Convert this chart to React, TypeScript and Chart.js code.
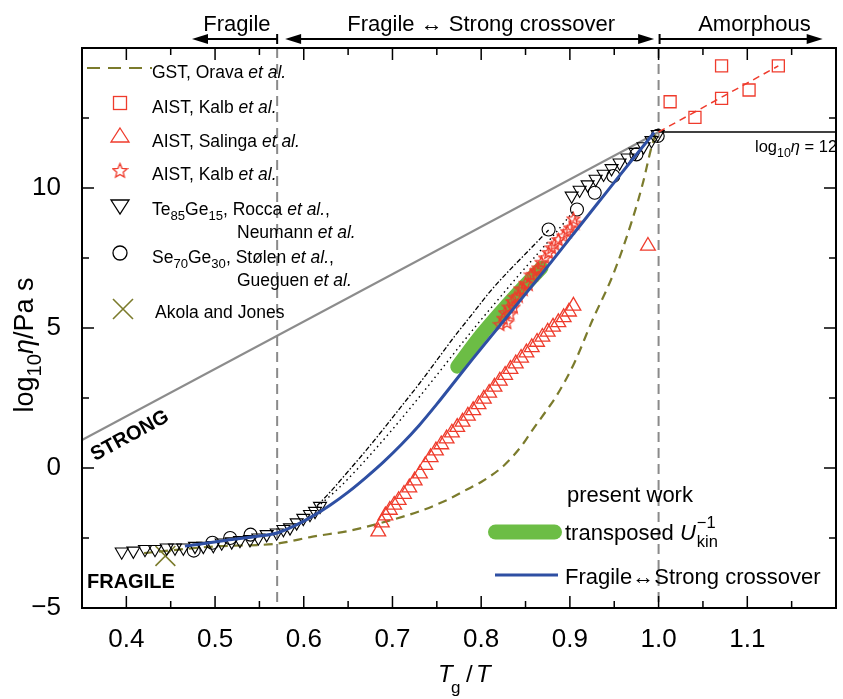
import React, { useEffect, useRef } from 'react';
import { Chart, registerables } from 'chart.js';

Chart.register(...registerables);

const FONT = '"Liberation Sans", Arial, Helvetica, sans-serif';

// ---------- data (x = Tg/T, y = log10 eta) ----------
const blueCrossover = [[0.466,-2.79],[0.513,-2.58],[0.55,-2.43],[0.57,-2.32],[0.59,-2.06],[0.61,-1.72],[0.63,-1.32],[0.65,-0.86],[0.67,-0.34],[0.69,0.22],[0.71,0.84],[0.73,1.52],[0.75,2.28],[0.77,3.08],[0.79,3.88],[0.81,4.66],[0.83,5.44],[0.85,6.22],[0.87,7.0],[0.89,7.8],[0.91,8.6],[0.93,9.4],[0.95,10.2],[0.97,11.0],[0.995,11.98]];
const greenUkin = [[0.773,3.62],[0.8,4.75],[0.83,5.85],[0.868,7.15]];
const gstOrava = [[0.42,-3.04],[0.5,-2.8],[0.57,-2.7],[0.61,-2.45],[0.65,-2.25],[0.686,-1.97],[0.73,-1.55],[0.761,-1.15],[0.782,-0.8],[0.8,-0.5],[0.826,0.1],[0.847,0.85],[0.857,1.32],[0.874,2.07],[0.885,2.58],[0.905,3.75],[0.925,5.25],[0.949,6.93],[0.971,8.93],[0.982,10.14],[0.993,11.57],[0.998,12.0]];
const strongLine = [[0.35,1.0],[1.0,12.0]];
const plateau12 = [[1.0,12.0],[1.2,12.0]];
const aistKalbSquares = [[1.013,13.08],[1.041,12.52],[1.071,14.36],[1.071,13.2],[1.102,13.5],[1.135,14.36]];
const aistKalbFit = [[1.0,12.0],[1.135,14.36]];
const aistSalinga = [[0.684,-2.27],[0.688,-1.95],[0.692,-1.7],[0.697,-1.5],[0.702,-1.32],[0.707,-1.15],[0.713,-0.93],[0.719,-0.7],[0.725,-0.45],[0.731,-0.2],[0.737,0.1],[0.743,0.38],[0.749,0.62],[0.755,0.84],[0.761,1.05],[0.767,1.26],[0.773,1.46],[0.779,1.65],[0.785,1.86],[0.791,2.06],[0.797,2.27],[0.803,2.47],[0.809,2.68],[0.815,2.9],[0.821,3.11],[0.827,3.32],[0.833,3.53],[0.839,3.73],[0.845,3.93],[0.851,4.12],[0.857,4.31],[0.863,4.5],[0.869,4.68],[0.875,4.86],[0.881,5.04],[0.887,5.2],[0.893,5.38],[0.899,5.58],[0.904,5.79],[0.988,7.93]];
const aistKalbStars = [[0.8212,5.13],[0.825,5.35],[0.8269,5.55],[0.829,5.2],[0.831,5.75],[0.8325,5.5],[0.835,5.95],[0.8363,5.75],[0.838,6.1],[0.842,6.14],[0.844,6.4],[0.8475,6.38],[0.85,6.6],[0.8532,6.56],[0.856,6.9],[0.8588,6.92],[0.862,7.05],[0.8644,7.15],[0.868,7.35],[0.872,7.51],[0.876,7.7],[0.8795,7.87],[0.883,8.0],[0.887,8.16],[0.8926,8.29],[0.897,8.45],[0.9002,8.58],[0.904,8.9],[0.9058,8.75]];
const teGe = [[0.3948,-2.99],[0.4079,-2.96],[0.421,-2.9],[0.4323,-2.9],[0.4455,-2.85],[0.4548,-2.85],[0.4642,-2.85],[0.4774,-2.79],[0.4868,-2.79],[0.498,-2.76],[0.5075,-2.67],[0.5188,-2.63],[0.5281,-2.58],[0.5394,-2.55],[0.5488,-2.49],[0.5582,-2.37],[0.5695,-2.31],[0.577,-2.19],[0.5845,-2.13],[0.592,-1.95],[0.5995,-1.79],[0.607,-1.65],[0.6127,-1.54],[0.6183,-1.36],[0.902,9.72],[0.911,9.93],[0.92,10.12],[0.929,10.32],[0.938,10.5],[0.947,10.7],[0.956,10.9],[0.965,11.08],[0.974,11.28],[0.983,11.48],[0.992,11.7],[0.999,11.92]];
const seGe = [[0.476,-2.95],[0.497,-2.67],[0.517,-2.5],[0.54,-2.38],[0.876,8.52],[0.908,9.23],[0.928,9.83],[0.949,10.43],[0.975,11.2],[0.999,11.86]];
const fitDashDot = [[0.615,-1.35],[0.63,-0.85],[0.65,-0.12],[0.67,0.62],[0.69,1.4],[0.71,2.2],[0.73,3.0],[0.75,3.85],[0.77,4.7],[0.79,5.5],[0.81,6.3],[0.83,7.0],[0.85,7.65],[0.876,8.5]];
const fitDotted = [[0.615,-1.4],[0.64,-0.7],[0.66,-0.05],[0.68,0.65],[0.7,1.38],[0.72,2.14],[0.74,2.92],[0.76,3.72],[0.78,4.52],[0.8,5.3],[0.82,6.05],[0.84,6.8],[0.86,7.52],[0.88,8.25],[0.905,9.2]];
const akolaJones = [[0.444,-3.14]];
const regionBounds = [0.57, 1.0];
const xMin = 0.35, xMax = 1.2, yMin = -5, yMax = 15;

const RED = '#ef3b2c';
const OLIVE = '#7b7b2c';
const BLUE = '#2e4fa3';
const GREEN = '#6cbd45';
const GRAY = '#8c8c8c';

const pts = (a: number[][]) => a.map(([x, y]) => ({ x, y }));

function makeStar(size: number, color: string) {
  const c = document.createElement('canvas');
  c.width = size; c.height = size;
  const g = c.getContext('2d')!;
  const cx = size / 2, cy = size / 2 + 0.6, R = size / 2 - 1, r = R * 0.45;
  g.beginPath();
  for (let k = 0; k < 10; k++) {
    const ang = -Math.PI / 2 + (k * Math.PI) / 5;
    const rr = k % 2 === 0 ? R : r;
    g.lineTo(cx + rr * Math.cos(ang), cy + rr * Math.sin(ang));
  }
  g.closePath();
  g.strokeStyle = color; g.lineWidth = 1.3; g.stroke();
  return c;
}

type Seg = { t: string; i?: boolean; b?: boolean; sub?: boolean; sup?: boolean };
function drawRich(ctx: CanvasRenderingContext2D, segs: Seg[], x: number, y: number, size: number) {
  let cx = x;
  for (const s of segs) {
    const fs = s.sub || s.sup ? size * 0.75 : size;
    ctx.font = `${s.i ? 'italic ' : ''}${s.b ? 'bold ' : ''}${fs}px ${FONT}`;
    const dy = s.sub ? size * 0.3 : s.sup ? -size * 0.45 : 0;
    ctx.fillText(s.t, cx, y + dy);
    cx += ctx.measureText(s.t).width;
  }
  return cx;
}

function arrowHead(ctx: CanvasRenderingContext2D, x: number, y: number, dir: number) {
  ctx.beginPath();
  ctx.moveTo(x, y);
  ctx.lineTo(x - dir * 16, y - 5);
  ctx.lineTo(x - dir * 16, y + 5);
  ctx.closePath();
  ctx.fill();
}

const decor = {
  id: 'decor',
  beforeDatasetsDraw(chart: any) {
    const { ctx, chartArea: a, scales } = chart;
    ctx.save();
    ctx.strokeStyle = '#8a8a8a'; ctx.lineWidth = 2; ctx.setLineDash([10, 6]);
    for (const v of regionBounds) {
      const px = scales.x.getPixelForValue(v);
      ctx.beginPath(); ctx.moveTo(px, a.top); ctx.lineTo(px, a.bottom); ctx.stroke();
    }
    ctx.restore();
  },
  afterDraw(chart: any) {
    const { ctx, chartArea: a, scales } = chart;
    const xs = scales.x, ys = scales.y;
    ctx.save();
    ctx.setLineDash([]);
    ctx.strokeStyle = '#000'; ctx.fillStyle = '#000';
    // ticks (inward, all sides)
    ctx.lineWidth = 1.5;
    for (let k = 7; k <= 24; k++) {
      const px = xs.getPixelForValue(k * 0.05);
      const L = k % 2 === 0 ? 12 : 7;
      ctx.beginPath();
      ctx.moveTo(px, a.bottom); ctx.lineTo(px, a.bottom - L);
      ctx.moveTo(px, a.top); ctx.lineTo(px, a.top + L);
      ctx.stroke();
    }
    for (let k = -2; k <= 6; k++) {
      const py = ys.getPixelForValue(k * 2.5);
      const L = k % 2 === 0 ? 12 : 7;
      ctx.beginPath();
      ctx.moveTo(a.left, py); ctx.lineTo(a.left + L, py);
      ctx.moveTo(a.right, py); ctx.lineTo(a.right - L, py);
      ctx.stroke();
    }
    ctx.lineWidth = 2;
    ctx.strokeRect(a.left, a.top, a.right - a.left, a.bottom - a.top);

    // top region arrows
    const ay = 39;
    ctx.lineWidth = 2;
    const p = (v: number) => xs.getPixelForValue(v);
    ctx.beginPath();
    ctx.moveTo(p(0.474) + 10, ay); ctx.lineTo(p(0.57), ay);
    ctx.moveTo(p(0.57), ay - 5); ctx.lineTo(p(0.57), ay + 5);
    ctx.moveTo(p(0.579) + 10, ay); ctx.lineTo(p(0.995) - 10, ay);
    ctx.moveTo(p(1.0) + 1, ay - 5); ctx.lineTo(p(1.0) + 1, ay + 5);
    ctx.moveTo(p(1.0) + 1, ay); ctx.lineTo(p(1.185) - 10, ay);
    ctx.stroke();
    arrowHead(ctx, p(0.474), ay, -1);
    arrowHead(ctx, p(0.579), ay, -1);
    arrowHead(ctx, p(0.995), ay, 1);
    arrowHead(ctx, p(1.185), ay, 1);
    ctx.font = `22px ${FONT}`;
    ctx.textAlign = 'center'; ctx.textBaseline = 'alphabetic';
    ctx.fillText('Fragile', p(0.5247), 31);
    ctx.fillText('Fragile \u2194 Strong crossover', p(0.80), 31);
    ctx.fillText('Amorphous', p(1.108), 31);

    // top-left legend
    ctx.textAlign = 'left';
    const LS = 17.5;
    ctx.strokeStyle = OLIVE; ctx.lineWidth = 2.2; ctx.setLineDash([13, 8]);
    ctx.beginPath(); ctx.moveTo(87, 68); ctx.lineTo(152, 68); ctx.stroke();
    ctx.setLineDash([]);
    ctx.fillStyle = '#000';
    drawRich(ctx, [{ t: 'GST, Orava ' }, { t: 'et al.', i: true }], 152, 78, LS);
    drawRich(ctx, [{ t: 'AIST, Kalb ' }, { t: 'et al.', i: true }], 152, 113, LS);
    drawRich(ctx, [{ t: 'AIST, Salinga ' }, { t: 'et al.', i: true }], 152, 147, LS);
    drawRich(ctx, [{ t: 'AIST, Kalb ' }, { t: 'et al.', i: true }], 152, 180, LS);
    drawRich(ctx, [{ t: 'Te' }, { t: '85', sub: true }, { t: 'Ge' }, { t: '15', sub: true }, { t: ', Rocca ' }, { t: 'et al.', i: true }, { t: ',' }], 152, 215, LS);
    drawRich(ctx, [{ t: 'Neumann ' }, { t: 'et al.', i: true }], 237, 238, LS);
    drawRich(ctx, [{ t: 'Se' }, { t: '70', sub: true }, { t: 'Ge' }, { t: '30', sub: true }, { t: ', St\u00f8len ' }, { t: 'et al.', i: true }, { t: ',' }], 152, 263, LS);
    drawRich(ctx, [{ t: 'Gueguen ' }, { t: 'et al.', i: true }], 237, 286, LS);
    drawRich(ctx, [{ t: 'Akola and Jones' }], 155, 318, LS);
    // legend symbols
    ctx.lineWidth = 1.3;
    ctx.strokeStyle = RED;
    ctx.strokeRect(113.5, 96.5, 13, 13);
    ctx.beginPath(); ctx.moveTo(120, 128); ctx.lineTo(129, 142); ctx.lineTo(111, 142); ctx.closePath(); ctx.stroke();
    ctx.drawImage(makeStar(17, RED), 111.5, 162);
    ctx.strokeStyle = '#000';
    ctx.beginPath(); ctx.moveTo(111, 200); ctx.lineTo(129, 200); ctx.lineTo(120, 214); ctx.closePath(); ctx.stroke();
    ctx.beginPath(); ctx.arc(120, 253, 7, 0, Math.PI * 2); ctx.stroke();
    ctx.strokeStyle = OLIVE; ctx.lineWidth = 1.6;
    ctx.beginPath(); ctx.moveTo(113, 299); ctx.lineTo(133, 319); ctx.moveTo(133, 299); ctx.lineTo(113, 319); ctx.stroke();

    // bottom-right legend
    ctx.fillStyle = '#000';
    const BS = 22;
    drawRich(ctx, [{ t: 'present work' }], 567, 502, BS);
    ctx.strokeStyle = GREEN; ctx.lineWidth = 15; ctx.lineCap = 'round';
    ctx.beginPath(); ctx.moveTo(495.5, 532); ctx.lineTo(554.5, 532); ctx.stroke();
    ctx.lineCap = 'butt';
    const ux = drawRich(ctx, [{ t: 'transposed ' }, { t: 'U', i: true }], 565, 540, BS);
    ctx.font = `${BS * 0.75}px ${FONT}`;
    ctx.fillText('\u22121', ux + 1, 540 - BS * 0.55);
    ctx.fillText('kin', ux + 1, 540 + BS * 0.32);
    ctx.strokeStyle = BLUE; ctx.lineWidth = 3;
    ctx.beginPath(); ctx.moveTo(495, 575); ctx.lineTo(558, 575); ctx.stroke();
    drawRich(ctx, [{ t: 'Fragile\u2194Strong crossover' }], 565, 584, BS);

    // annotations
    drawRich(ctx, [{ t: 'log' }, { t: '10', sub: true }, { t: '\u03b7', i: true }, { t: ' = 12' }], 755, 152, 16.5);
    ctx.font = `bold 20px ${FONT}`;
    ctx.fillText('FRAGILE', 87, 588);
    ctx.save();
    ctx.translate(130, 436); ctx.rotate(-0.5);
    ctx.textAlign = 'center'; ctx.textBaseline = 'middle';
    ctx.fillText('STRONG', 0, 0);
    ctx.restore();

    // axis titles
    ctx.font = `italic 24px ${FONT}`;
    ctx.fillText('T', 438, 682);
    ctx.font = `17px ${FONT}`;
    ctx.fillText('g', 451, 693);
    ctx.font = `24px ${FONT}`;
    ctx.fillText('/', 466, 682);
    ctx.font = `italic 24px ${FONT}`;
    ctx.fillText('T', 476, 682);

    ctx.save();
    ctx.translate(33, 345); ctx.rotate(-Math.PI / 2);
    const segs: Seg[] = [{ t: 'log' }, { t: '10', sub: true }, { t: '\u03b7', i: true }, { t: '/Pa s' }];
    let w = 0;
    for (const s of segs) {
      const fs = s.sub ? 27 * 0.75 : 27;
      ctx.font = `${s.i ? 'italic ' : ''}${fs}px ${FONT}`;
      w += ctx.measureText(s.t).width;
    }
    drawRich(ctx, segs, -w / 2, 0, 27);
    ctx.restore();

    ctx.restore();
  },
};

export default function App() {
  const ref = useRef<HTMLCanvasElement>(null);
  useEffect(() => {
    document.body.style.margin = '0';
    const star = makeStar(15, RED);
    const hollow = 'rgba(0,0,0,0)';
    const line = (data: number[][], color: string, width: number, extra: any = {}) => ({
      data: pts(data), showLine: true, borderColor: color, borderWidth: width,
      pointRadius: 0, pointHoverRadius: 0, backgroundColor: color, fill: false, ...extra,
    });
    const marks = (data: number[][], color: string, style: any, radius: number, extra: any = {}) => ({
      data: pts(data), showLine: false, pointStyle: style, pointRadius: radius, pointHoverRadius: radius,
      borderColor: color, backgroundColor: hollow, pointBorderWidth: 1.3, ...extra,
    });
    const chart = new Chart(ref.current!, {
      type: 'scatter',
      data: {
        datasets: [
          line(blueCrossover, BLUE, 3, { cubicInterpolationMode: 'monotone' }),
          marks(aistKalbStars, RED, star, 7),
          line(greenUkin, GREEN, 14, { borderCapStyle: 'round', cubicInterpolationMode: 'monotone' }),
          marks(aistSalinga, RED, 'triangle', 8.5),
          marks(aistKalbSquares, RED, 'rect', 8.5),
          line(aistKalbFit, RED, 1.5, { borderDash: [7, 5] }),
          marks(teGe, '#000', 'triangle', 7.5, { rotation: 180, pointBorderWidth: 1.1 }),
          marks(seGe, '#000', 'circle', 6.5, { pointBorderWidth: 1.1 }),
          line(fitDashDot, '#000', 1.3, { borderDash: [5, 2, 1.5, 2], cubicInterpolationMode: 'monotone' }),
          line(fitDotted, '#000', 1.4, { borderDash: [1.5, 3.5], cubicInterpolationMode: 'monotone' }),
          line(gstOrava, OLIVE, 2.2, { borderDash: [9, 6], cubicInterpolationMode: 'monotone' }),
          marks(akolaJones, OLIVE, 'crossRot', 14, { pointBorderWidth: 1.6 }),
          line(strongLine, GRAY, 2),
          line(plateau12, '#000', 1.5),
        ],
      },
      options: {
        responsive: false,
        animation: false,
        events: [],
        layout: { autoPadding: false, padding: { left: 0, right: 7, top: 48, bottom: 0 } },
        plugins: { legend: { display: false }, tooltip: { enabled: false } },
        scales: {
          x: {
            type: 'linear', min: xMin, max: xMax,
            grid: { display: false },
            border: { display: false },
            ticks: {
              stepSize: 0.05, autoSkip: false, maxRotation: 0, padding: 8, color: '#000',
              font: { family: FONT, size: 26 },
              callback: (v: any) => {
                const k = Math.round(Number(v) * 20);
                if (k % 2 !== 0) return '';
                const t = k / 20;
                if (t < 0.39 || t > 1.11) return '';
                return t.toFixed(1);
              },
            },
            afterFit: (s: any) => { s.height = 91; s.paddingLeft = 0; s.paddingRight = 0; },
          },
          y: {
            type: 'linear', min: yMin, max: yMax,
            grid: { display: false },
            border: { display: false },
            ticks: {
              stepSize: 2.5, autoSkip: false, padding: 13, color: '#000',
              font: { family: FONT, size: 26 },
              callback: (v: any) => {
                const n = Number(v);
                if (Math.abs(n / 5 - Math.round(n / 5)) > 1e-6 || n > 14) return '';
                return n < 0 ? '\u2212' + Math.abs(n) : String(n);
              },
            },
            afterFit: (s: any) => { s.width = 82; s.paddingTop = 0; s.paddingBottom = 0; },
          },
        },
      } as any,
      plugins: [decor],
    });
    return () => chart.destroy();
  }, []);
  return (
    <div style={{ width: 843, height: 699 }}>
      <canvas ref={ref} width={843} height={699} style={{ display: 'block', width: 843, height: 699 }} />
    </div>
  );
}
